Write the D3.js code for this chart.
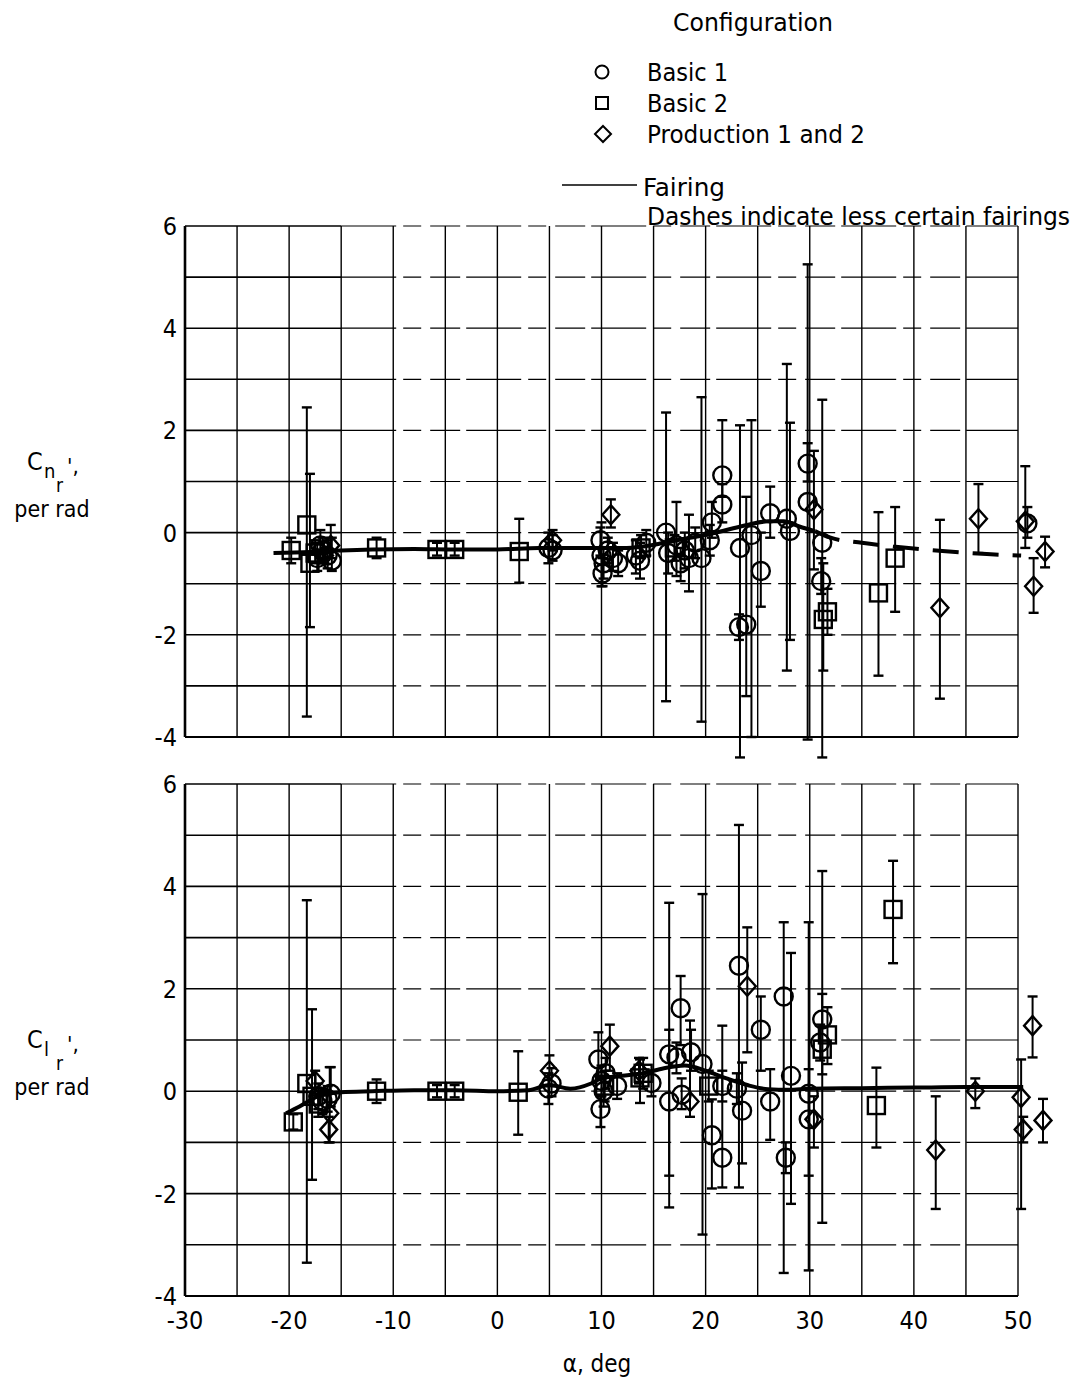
<!DOCTYPE html>
<html><head><meta charset="utf-8">
<script src="https://cdn.jsdelivr.net/npm/d3@7"></script>
<style>
html,body{margin:0;padding:0;background:#fff;}
svg{display:block;}
text{font-family:"DejaVu Sans Condensed","Liberation Sans Narrow","DejaVu Sans",sans-serif;fill:#000;}
</style></head>
<body><svg id="c" width="1082" height="1386"></svg>
<script>
// ---------- data ----------
const xTicks = [-30,-20,-10,0,10,20,30,40,50];
const yTicks = [6,4,2,0,-2,-4];
const legendLabels = ["Basic 1","Basic 2","Production 1 and 2"];
// [alpha, value, errLow, errHigh]
const cnBasic1 = [
 [-17.3,-0.5,-0.75,-0.2],[-16.8,-0.35,-0.6,-0.1],[-16.3,-0.45,-0.7,-0.15],[-15.9,-0.55,-0.75,-0.1],[-17.0,-0.25,-0.5,0.05],
 [4.9,-0.3,-0.6,0.0],[5.3,-0.35,-0.55,-0.05],
 [9.9,-0.15,-0.45,0.1],[10.0,-0.45,-1.05,0.2],[10.2,-0.6,-0.9,-0.3],[10.1,-0.8,-1.05,-0.5],[10.6,-0.35,-0.6,-0.1],[11.1,-0.5,-0.75,-0.2],[11.6,-0.6,-0.85,-0.35],
 [13.3,-0.45,-0.8,-0.15],[13.7,-0.55,-0.9,-0.2],[14.3,-0.2,-0.45,0.05],
 [16.2,0.0,-3.3,2.35],[16.4,-0.4,-0.8,0.0],[17.2,-0.25,-0.85,0.6],[17.6,-0.6,-0.95,-0.3],[18.0,-0.35,-0.7,0.0],[18.4,-0.5,-1.15,0.35],[19.0,-0.2,-0.5,0.1],[19.6,-0.5,-3.7,2.65],
 [20.4,-0.15,-0.45,0.15],[20.6,0.2,-0.1,0.6],[21.6,1.12,0.7,2.2],[21.6,0.55,0.2,0.95],
 [23.3,-0.3,-4.4,2.1],[23.2,-1.85,-2.1,-1.6],[23.9,-1.8,-3.2,0.7],[24.4,-0.05,-4.0,2.2],
 [25.3,-0.75,-1.45,0.0],[26.2,0.38,-0.1,0.9],[27.8,0.27,-2.7,3.3],[28.1,0.03,-2.1,2.15],
 [29.8,1.35,1.0,1.75],[29.8,0.6,-4.05,5.25],[31.2,-0.2,-4.4,2.6],[31.1,-0.95,-1.2,-0.5],[50.9,0.18,-0.1,0.5]
];
const cnBasic2 = [
 [-19.8,-0.35,-0.6,-0.1],[-18.3,0.15,-3.6,2.45],[-18.0,-0.6,-1.85,1.15],[-17.5,-0.4,-0.6,-0.15],
 [-11.6,-0.3,-0.5,-0.1],[-5.8,-0.33,-0.45,-0.2],[-4.1,-0.33,-0.45,-0.2],[2.1,-0.37,-0.98,0.27],
 [13.8,-0.3,-0.5,-0.05],[17.0,-0.3,-0.55,-0.05],
 [31.3,-1.7,-2.7,-0.6],[31.7,-1.55,-2.0,-1.1],[36.6,-1.18,-2.8,0.4],[38.2,-0.5,-1.55,0.5]
];
const cnProd = [
 [-16.0,-0.25,-0.5,0.15],[-16.6,-0.45,-0.6,-0.3],[5.3,-0.15,-0.35,0.05],[10.9,0.35,0.1,0.65],
 [30.4,0.45,-0.72,1.6],[42.5,-1.47,-3.25,0.25],[46.2,0.27,-0.4,0.95],[50.7,0.22,-0.3,1.3],
 [51.5,-1.05,-1.57,-0.5],[52.6,-0.37,-0.68,-0.08]
];
const cnFairSolidX = [-21.5,-18,-15,-12,-8,-4,0,4,8,12,14,16,18,20,22,24,26,27.5,29,30.5];
const cnFairSolidY = [-0.4,-0.38,-0.35,-0.33,-0.32,-0.33,-0.33,-0.3,-0.3,-0.3,-0.27,-0.2,-0.12,-0.05,0.05,0.15,0.22,0.22,0.12,0.03];
const cnFairDashX = [30.5,32,35,38,41,44,47,50.3];
const cnFairDashY = [0.03,-0.1,-0.2,-0.27,-0.33,-0.38,-0.42,-0.45];

const clBasic1 = [
 [-17.2,-0.1,-0.35,0.15],[-16.8,-0.2,-0.45,0.05],[-16.3,-0.15,-0.4,0.1],[-16.0,-0.05,-0.3,0.47],
 [4.9,0.05,-0.25,0.35],[5.2,0.15,-0.1,0.45],
 [9.7,0.62,0.3,1.15],[9.9,-0.35,-0.7,-0.1],[10.0,0.2,-0.1,0.5],[10.2,0.0,-0.3,0.3],[10.4,0.35,0.05,0.65],[11.5,0.1,-0.15,0.35],
 [14.8,0.16,-0.1,0.4],[16.5,0.72,-2.27,3.68],[16.5,-0.2,-1.65,1.2],[17.2,0.66,0.35,0.95],[17.6,1.62,0.9,2.25],[17.7,-0.07,-0.35,0.25],
 [18.6,0.76,0.4,1.2],[19.7,0.53,-2.8,3.85],[20.6,-0.86,-1.9,-0.16],[21.6,-1.3,-1.88,1.28],[21.6,0.1,-0.2,0.4],
 [23.2,2.45,-1.88,5.2],[23.5,-0.38,-1.41,0.56],[23.0,0.05,-0.25,0.35],[25.3,1.2,0.4,1.85],[26.2,-0.2,-0.95,0.43],
 [27.5,1.85,-3.55,3.3],[27.7,-1.3,-1.6,-1.0],[28.2,0.3,-2.2,2.7],[29.9,-0.05,-3.5,3.3],[29.9,-0.55,-1.65,0.43],
 [31.2,1.4,-2.57,4.3],[31.0,0.95,0.6,1.3]
];
const clBasic2 = [
 [-19.6,-0.6,-0.75,-0.45],[-18.3,0.15,-3.35,3.73],[-17.8,-0.1,-1.73,1.6],[-17.2,-0.25,-0.5,0.0],
 [-11.6,0.0,-0.23,0.23],[-5.8,0.0,-0.12,0.12],[-4.1,0.0,-0.12,0.12],[2.0,-0.02,-0.85,0.78],
 [10.3,0.1,-0.2,0.4],[13.7,0.26,-0.23,0.62],[14.0,0.35,0.05,0.65],[20.3,0.1,-0.2,0.4],
 [31.2,0.82,0.33,1.9],[31.7,1.1,0.53,1.64],[36.4,-0.28,-1.1,0.46],[38.0,3.55,2.5,4.5]
];
const clProd = [
 [-16.1,-0.43,-1.0,0.47],[-16.2,-0.75,-1.0,-0.5],[-17.5,0.2,-0.05,0.4],[5.0,0.4,0.1,0.7],[10.8,0.88,0.4,1.3],
 [13.6,0.4,0.15,0.65],[18.5,-0.2,-0.5,1.38],[24.0,2.05,0.76,3.2],[30.4,-0.55,-1.1,-0.1],
 [42.1,-1.15,-2.3,-0.1],[45.9,0.0,-0.33,0.25],[50.3,-0.12,-2.3,0.62],[50.5,-0.75,-1.0,-0.5],
 [51.4,1.28,0.66,1.85],[52.4,-0.57,-1.0,-0.15]
];
const clFairX = [-20.3,-19,-18,-17,-15,-12,-8,-4,0,3,5,7,9,10,12,14,16,18,20,22,24,26,28,30,35,40,45,50.5];
const clFairY = [-0.43,-0.3,-0.18,-0.08,-0.02,0,0.02,0.02,0,0.02,0.12,0.05,0.15,0.25,0.3,0.35,0.45,0.5,0.4,0.25,0.12,0.04,0.03,0.05,0.06,0.07,0.08,0.08];

// ---------- layout ----------
const svg = d3.select("#c");
const x = d3.scaleLinear().domain([-30,50]).range([185,1018]);
const yTop = d3.scaleLinear().domain([-4,6]).range([737,226]);
const yBot = d3.scaleLinear().domain([-4,6]).range([1296,784]);

function grid(y){
  const g = svg.append("g");
  d3.range(-30,51,5).forEach(v=>{
    g.append("line").attr("x1",x(v)).attr("x2",x(v)).attr("y1",y(6)).attr("y2",y(-4))
     .attr("stroke","#000").attr("stroke-width", v===-30?2.6:1.4);
  });
  d3.range(-4,7,1).forEach(v=>{
    g.append("line").attr("x1",x(-30)).attr("x2",x(-15)).attr("y1",y(v)).attr("y2",y(v))
     .attr("stroke","#000").attr("stroke-width",1.6);
    g.append("line").attr("x1",x(-15)).attr("x2",x(50)).attr("y1",y(v)).attr("y2",y(v))
     .attr("stroke","#000").attr("stroke-width",1.2).attr("stroke-dasharray","55,7,18,9,30,6");
  });
  g.append("line").attr("x1",x(-30)).attr("x2",x(50)).attr("y1",y(-4)).attr("y2",y(-4))
   .attr("stroke","#000").attr("stroke-width",2);
  yTicks.forEach(v=>{
    g.append("text").attr("x",177).attr("y",y(v)).attr("dy","0.36em").attr("text-anchor","end")
     .attr("font-size",25).text(v);
  });
}
grid(yTop); grid(yBot);

function errBars(data,y){
  const g = svg.append("g").attr("stroke","#000").attr("stroke-width",2);
  data.forEach(d=>{
    const cx = x(d[0]);
    g.append("line").attr("x1",cx).attr("x2",cx).attr("y1",y(d[2])).attr("y2",y(d[3]));
    [d[2],d[3]].forEach(e=>g.append("line").attr("x1",cx-5).attr("x2",cx+5).attr("y1",y(e)).attr("y2",y(e)).attr("stroke-width",2.4));
  });
}
function marks(data,y,shape){
  const g = svg.append("g").attr("fill","none").attr("stroke","#000").attr("stroke-width",2.4);
  data.forEach(d=>{
    const cx=x(d[0]), cy=y(d[1]);
    if(shape==="circle") g.append("circle").attr("cx",cx).attr("cy",cy).attr("r",9);
    else if(shape==="square") g.append("rect").attr("x",cx-8.5).attr("y",cy-8.5).attr("width",17).attr("height",17);
    else g.append("path").attr("d",`M${cx},${cy-9.5}L${cx+8.5},${cy}L${cx},${cy+9.5}L${cx-8.5},${cy}Z`);
  });
}
const line = (y)=>d3.line().curve(d3.curveMonotoneX).x(d=>x(d[0])).y(d=>y(d[1]));

// top panel
[[cnBasic1,"circle"],[cnBasic2,"square"],[cnProd,"diamond"]].forEach(([d,s])=>{errBars(d,yTop);marks(d,yTop,s);});
svg.append("path").datum(cnFairSolidX.map((v,i)=>[v,cnFairSolidY[i]])).attr("d",line(yTop))
  .attr("fill","none").attr("stroke","#000").attr("stroke-width",4);
svg.append("path").datum(cnFairDashX.map((v,i)=>[v,cnFairDashY[i]])).attr("d",line(yTop))
  .attr("fill","none").attr("stroke","#000").attr("stroke-width",4).attr("stroke-dasharray","26,14");
// bottom panel
[[clBasic1,"circle"],[clBasic2,"square"],[clProd,"diamond"]].forEach(([d,s])=>{errBars(d,yBot);marks(d,yBot,s);});
svg.append("path").datum(clFairX.map((v,i)=>[v,clFairY[i]])).attr("d",line(yBot))
  .attr("fill","none").attr("stroke","#000").attr("stroke-width",4);

// x axis labels
xTicks.forEach(v=>{
  svg.append("text").attr("x",x(v)).attr("y",1329).attr("text-anchor","middle").attr("font-size",25).text(v);
});
svg.append("text").attr("x",597).attr("y",1372).attr("text-anchor","middle").attr("font-size",24).text("α, deg");

// y axis titles
function yTitle(sub, yb){
  svg.append("text").attr("x",27).attr("y",yb).attr("font-size",25).text("C");
  svg.append("text").attr("x",44).attr("y",yb+8).attr("font-size",20).text(sub);
  svg.append("text").attr("x",56).attr("y",yb+22).attr("font-size",19).text("r");
  svg.append("text").attr("x",67).attr("y",yb+4).attr("font-size",22).text("',");
  svg.append("text").attr("x",52).attr("y",yb+47).attr("text-anchor","middle").attr("font-size",23).text("per rad");
}
yTitle("n",470); yTitle("l",1048);

// legend
svg.append("text").attr("x",673).attr("y",31).attr("font-size",25).attr("textLength",160).attr("lengthAdjust","spacingAndGlyphs").text("Configuration");
const lg = svg.append("g").attr("fill","none").attr("stroke","#000").attr("stroke-width",2);
lg.append("circle").attr("cx",602).attr("cy",72).attr("r",6.5);
lg.append("rect").attr("x",596).attr("y",97).attr("width",12).attr("height",12);
lg.append("path").attr("d","M603,126L611,134L603,142L595,134Z");
const legendW = [81,81,218];
legendLabels.forEach((t,i)=>{
  svg.append("text").attr("x",647).attr("y",81+i*31).attr("font-size",25)
    .attr("textLength",legendW[i]).attr("lengthAdjust","spacingAndGlyphs").text(t);
});
svg.append("line").attr("x1",562).attr("x2",637).attr("y1",185).attr("y2",185).attr("stroke","#000").attr("stroke-width",1.6);
svg.append("text").attr("x",643).attr("y",196).attr("font-size",25).attr("textLength",82).attr("lengthAdjust","spacingAndGlyphs").text("Fairing");
svg.append("text").attr("x",647).attr("y",225).attr("font-size",25).attr("textLength",423).attr("lengthAdjust","spacingAndGlyphs").text("Dashes indicate less certain fairings");
</script></body></html>
